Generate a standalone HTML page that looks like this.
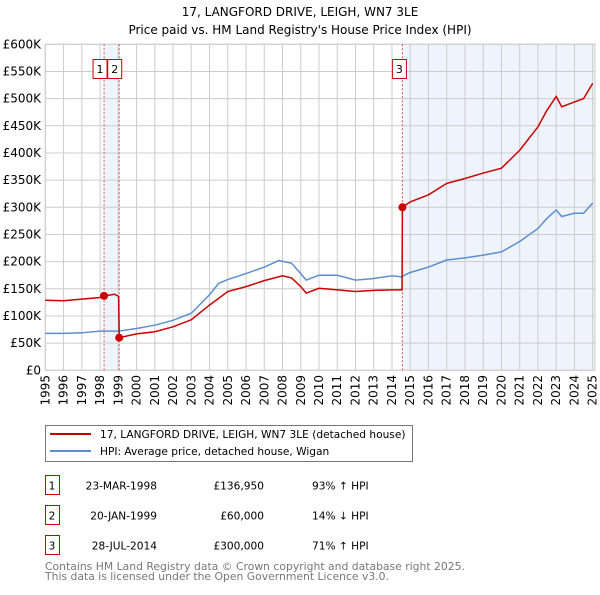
<!DOCTYPE html>
<html><head><meta charset="utf-8"><style>
body{margin:0;background:#fff;font-family:"Liberation Sans","DejaVu Sans",sans-serif;}
</style></head><body>
<svg id="chart" width="600" height="590" xmlns="http://www.w3.org/2000/svg" font-family="DejaVu Sans, Liberation Sans, sans-serif">
<text x="300" y="16" text-anchor="middle" font-size="12">17, LANGFORD DRIVE, LEIGH, WN7 3LE</text>
<text x="300" y="34" text-anchor="middle" font-size="12">Price paid vs. HM Land Registry's House Price Index (HPI)</text>
<g id="plot"></g>
<g>
<rect x="45.5" y="425.5" width="367" height="36" fill="#fff" stroke="#777"/>
<line x1="50" y1="434" x2="91" y2="434" stroke="#cc0000" stroke-width="2"/>
<text x="100" y="438" font-size="10.6">17, LANGFORD DRIVE, LEIGH, WN7 3LE (detached house)</text>
<line x1="50" y1="451" x2="91" y2="451" stroke="#5b8fd0" stroke-width="2"/>
<text x="100" y="455" font-size="10.6">HPI: Average price, detached house, Wigan</text>
</g>
<g id="table" font-size="10.6"></g>
<text x="45" y="570" font-size="10.8" fill="#777">Contains HM Land Registry data © Crown copyright and database right 2025.</text>
<text x="45" y="580" font-size="10.8" fill="#777">This data is licensed under the Open Government Licence v3.0.</text>
</svg>
<script>
const hpiYears=[1995,1996,1997,1998,1999,2000,2001,2002,2003,2004,2004.5,2005,2006,2007,2007.8,2008.5,2009,2009.3,2010,2011,2012,2013,2014,2014.5,2015,2016,2017,2018,2019,2020,2021,2022,2022.5,2023,2023.3,2024,2024.5,2025];
const hpiValues=[68,68,69,72,72,77,83,92,105,139,160,167,178,190,202,197,178,166,175,175,166,169,174,172,180,190,203,207,212,218,237,261,280,295,283,289,289,308];
const redYears=[1995,1996,1997,1998,1998.22,1998.8,1999.02,1999.05,2000,2001,2002,2003,2004,2005,2006,2007,2008,2008.5,2009,2009.3,2010,2011,2012,2013,2014,2014.55,2014.57,2015,2016,2017,2018,2019,2020,2021,2022,2022.5,2023,2023.3,2024,2024.5,2025];
const redValues=[129,128,131,134,136.95,140,136,60,67,71,80,93,120,145,154,165,174,170,154,142,151,148,145,147,148,148,300,310,323,344,353,363,372,405,448,479,504,485,494,500,528];
const saleIds=["1","2","3"];
const saleYears=[1998.22,1999.05,2014.57];
const saleValues=[136.95,60,300];
const saleDates=["23-MAR-1998","20-JAN-1999","28-JUL-2014"];
const salePrices=["£136,950","£60,000","£300,000"];
const saleHpi=["93% ↑ HPI","14% ↓ HPI","71% ↑ HPI"];
const yTicks=[0,50,100,150,200,250,300,350,400,450,500,550,600];
const yTickLabels=["£0","£50K","£100K","£150K","£200K","£250K","£300K","£350K","£400K","£450K","£500K","£550K","£600K"];
const xTicks=[1995,1996,1997,1998,1999,2000,2001,2002,2003,2004,2005,2006,2007,2008,2009,2010,2011,2012,2013,2014,2015,2016,2017,2018,2019,2020,2021,2022,2023,2024,2025];

const NS="http://www.w3.org/2000/svg";
const L=45.3,R=592.7,T=44.3,B=370.3;
const xs=y=>L+(y-1995)/30*(R-L);
const ys=v=>B-v/600*(B-T);
const plot=document.getElementById('plot');
function mk(tag,attrs,parent){const e=document.createElementNS(NS,tag);for(const k in attrs)e.setAttribute(k,attrs[k]);(parent||plot).appendChild(e);return e;}

const bg=mk('rect',{x:L,y:T,width:595-L,height:B-T,fill:'#fff'});


const sh1=mk('rect',{x:xs(saleYears[0]),y:T,width:xs(saleYears[1])-xs(saleYears[0]),height:B-T,fill:'#eef3fc'});


const sh2=mk('rect',{x:xs(saleYears[2]),y:T,width:595-xs(saleYears[2]),height:B-T,fill:'#eef3fc'});



yTicks.forEach((v,i)=>{
  const g=mk('line',{x1:L,x2:595,y1:ys(v),y2:ys(v),stroke:'#ccc','stroke-width':1});
  
  
  const t=mk('text',{x:41,y:ys(v)+4,'text-anchor':'end','font-size':12});
  t.textContent=yTickLabels[i];
  
  
});
xTicks.forEach(y=>{
  const g=mk('line',{x1:xs(y),x2:xs(y),y1:T,y2:B,stroke:'#ccc','stroke-width':1});
  
  
  const t=mk('text',{x:0,y:0,'text-anchor':'end','font-size':12,transform:`translate(${xs(y)+4},375) rotate(-90)`});
  t.textContent=y;
  
  
});
const frame=mk('rect',{x:L,y:T,width:595-L,height:B-T,fill:'none',stroke:'#ccc'});



saleYears.forEach((y,i)=>{
  const l=mk('line',{x1:xs(y),x2:xs(y),y1:T,y2:B,stroke:'#e05050','stroke-width':1,'stroke-dasharray':'2,2'});
  
  
});

const hp=mk('polyline',{points:hpiYears.map((y,i)=>xs(y)+','+ys(hpiValues[i])).join(' '),fill:'none',stroke:'#5b8fd0','stroke-width':1.5});


const rp=mk('polyline',{points:redYears.map((y,i)=>xs(y)+','+ys(redValues[i])).join(' '),fill:'none',stroke:'#cc0000','stroke-width':1.5});



const boxOffsets=[-11,-11.5,-10];
saleYears.forEach((y,i)=>{
  const c=mk('circle',{cx:xs(y),cy:ys(saleValues[i]),r:4,fill:'#cc0000'});
  
  
  const bx=xs(y)+boxOffsets[i];
  const r=mk('rect',{x:bx,y:59.5,width:14,height:19,fill:'#fff',stroke:'#cc0000'});
  
  
  const t=mk('text',{x:bx+7,y:73,'text-anchor':'middle','font-size':11});
  t.textContent=saleIds[i];
  
  
});

const tb=document.getElementById('table');
saleIds.forEach((id,i)=>{
  const yy=475.5+i*30;
  const r=mk('rect',{x:45.5,y:yy,width:14,height:19,fill:'#fff',stroke:'#cc0000'},tb);
  
  
  const cells=[[52,'middle',id],[157,'end',saleDates[i]],[264,'end',salePrices[i]],[312,'start',saleHpi[i]]];
  cells.forEach(c=>{
    const t=mk('text',{x:c[0],y:yy+14,'text-anchor':c[1],'font-size':10.6},tb);
    t.textContent=c[2];
    
    
  });
});
</script>
</body></html>
